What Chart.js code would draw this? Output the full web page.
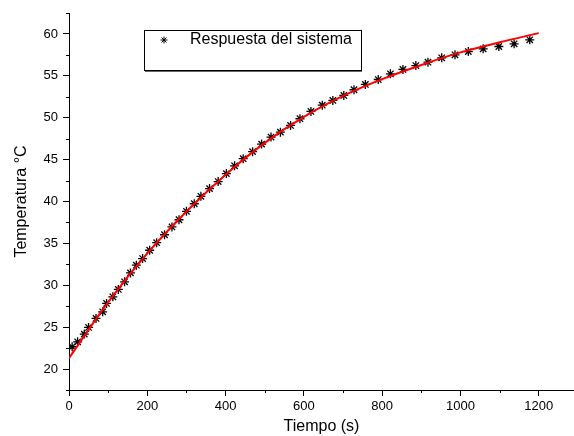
<!DOCTYPE html>
<html>
<head>
<meta charset="utf-8">
<script src="https://cdn.jsdelivr.net/npm/chart.js@4/dist/chart.umd.min.js"></script>
<style>
  html, body { margin: 0; padding: 0; background: #ffffff; }
  canvas { display: block; }
</style>
</head>
<body>
<canvas id="c" width="574" height="436"></canvas>
<script>
// ---- data ----
const timeData = [8,22,39,50,69,86,96,112,126,142,157,172,188,206,224,244,263,281,300,320,337,359,381,402,423,445,469,492,516,540,566,590,618,647,674,702,728,757,790,821,853,886,917,952,986,1020,1058,1098,1137,1177];
const tempData = [22.66,23.25,24.17,24.97,26.04,26.83,27.83,28.62,29.5,30.41,31.48,32.4,33.19,34.18,35.08,36.03,36.96,37.82,38.83,39.73,40.62,41.54,42.38,43.33,44.26,45.11,45.95,46.85,47.69,48.28,49.08,49.88,50.75,51.5,52.06,52.66,53.34,53.97,54.56,55.24,55.76,56.23,56.63,57.15,57.51,57.9,58.22,58.5,58.82,59.3];
const fitTime = [0,100,200,300,400,500,600,700,800,900,1000,1100,1200];
const fitTemp = [21.3,28.0,33.8,38.8,43.2,47.0,50.1,52.6,54.6,56.3,57.8,59.0,60.1];
const xMajorTicks = [0,200,400,600,800,1000,1200];
const xMinorTicks = [100,300,500,700,900,1100];
const yMajorTicks = [20,25,30,35,40,45,50,55,60];
const yMinorTicks = [17.5,22.5,27.5,32.5,37.5,42.5,47.5,52.5,57.5,62.5];
const seriesLabel = "Respuesta del sistema";
const xTitle = "Tiempo (s)";
const yTitle = "Temperatura °C";

const FONT = "'Liberation Sans', Arial, sans-serif";

const minorTicksPlugin = {
  id: 'minorTicks',
  afterDraw(chart) {
    const ctx = chart.ctx;
    const xs = chart.scales.x, ys = chart.scales.y;
    ctx.save();
    ctx.strokeStyle = '#000';
    ctx.lineWidth = 1;
    ctx.beginPath();
    xMinorTicks.forEach(v => {
      const px = Math.round(xs.getPixelForValue(v)) + 0.5;
      ctx.moveTo(px, xs.top);
      ctx.lineTo(px, xs.top + 3);
    });
    yMinorTicks.forEach(v => {
      const py = Math.round(ys.getPixelForValue(v)) + 0.5;
      ctx.moveTo(ys.right, py);
      ctx.lineTo(ys.right - 3, py);
    });
    ctx.stroke();
    ctx.restore();
  }
};

const legendBoxPlugin = {
  id: 'legendBox',
  afterDraw(chart) {
    const ctx = chart.ctx;
    ctx.save();
    ctx.strokeStyle = '#000';
    ctx.lineWidth = 1;
    ctx.strokeRect(144.5, 30.5, 217, 40);
    ctx.strokeStyle = '#666';
    ctx.beginPath();
    ctx.moveTo(145, 71.5); ctx.lineTo(362, 71.5);
    ctx.stroke();
    ctx.strokeStyle = '#000';
    ctx.fillStyle = '#000';
    Chart.helpers.drawPoint(ctx, {pointStyle: 'star', radius: 3.5, borderWidth: 1.2, rotation: 0}, 164, 40);
    ctx.font = "16px " + FONT;
    ctx.textBaseline = 'middle';
    ctx.textAlign = 'left';
    ctx.fillText(seriesLabel, 190, 40);
    ctx.restore();
  }
};

new Chart(document.getElementById('c'), {
  type: 'scatter',
  data: {
    datasets: [
      {
        label: 'fit',
        data: fitTime.map((t, i) => ({x: t, y: fitTemp[i]})),
        showLine: true,
        borderColor: '#ff0000',
        borderWidth: 2,
        pointRadius: 0,
        cubicInterpolationMode: 'monotone',
        order: 0
      },
      {
        label: seriesLabel,
        data: timeData.map((t, i) => ({x: t, y: tempData[i]})),
        showLine: false,
        pointStyle: 'star',
        pointRadius: 4.5,
        borderColor: '#000',
        backgroundColor: '#000',
        pointBorderWidth: 1.3,
        order: 1
      }
    ]
  },
  options: {
    responsive: false,
    animation: false,
    devicePixelRatio: 1,
    layout: { autoPadding: false, padding: { top: 13, right: 0, bottom: 0, left: 0 } },
    plugins: { legend: { display: false }, tooltip: { enabled: false } },
    scales: {
      x: {
        type: 'linear',
        min: 0,
        max: 1290,
        afterBuildTicks: (s) => { s.ticks = xMajorTicks.map(v => ({value: v})); },
        afterFit: (s) => { s.height = 46; s.paddingLeft = 0; s.paddingRight = 0; },
        grid: { display: true, drawOnChartArea: false, drawTicks: true, tickLength: 6, tickColor: '#000' },
        border: { display: true, color: '#000', width: 1 },
        ticks: { color: '#000', font: { family: FONT, size: 13 }, padding: 3, maxRotation: 0, autoSkip: false,
                 callback: (v) => String(v) },
        title: { display: true, text: xTitle, color: '#000', font: { family: FONT, size: 16 }, padding: { top: 0, bottom: 0 } }
      },
      y: {
        type: 'linear',
        min: 17.5,
        max: 62.5,
        afterBuildTicks: (s) => { s.ticks = yMajorTicks.map(v => ({value: v})); },
        afterFit: (s) => { s.width = 69; s.paddingTop = 0; s.paddingBottom = 0; },
        grid: { display: true, drawOnChartArea: false, drawTicks: true, tickLength: 6, tickColor: '#000' },
        border: { display: true, color: '#000', width: 1 },
        ticks: { color: '#000', font: { family: FONT, size: 13 }, padding: 5, autoSkip: false,
                 callback: (v) => String(v) },
        title: { display: true, text: yTitle, color: '#000', font: { family: FONT, size: 16 }, padding: { top: 12, bottom: 0 } }
      }
    }
  },
  plugins: [minorTicksPlugin, legendBoxPlugin]
});
</script>
</body>
</html>
